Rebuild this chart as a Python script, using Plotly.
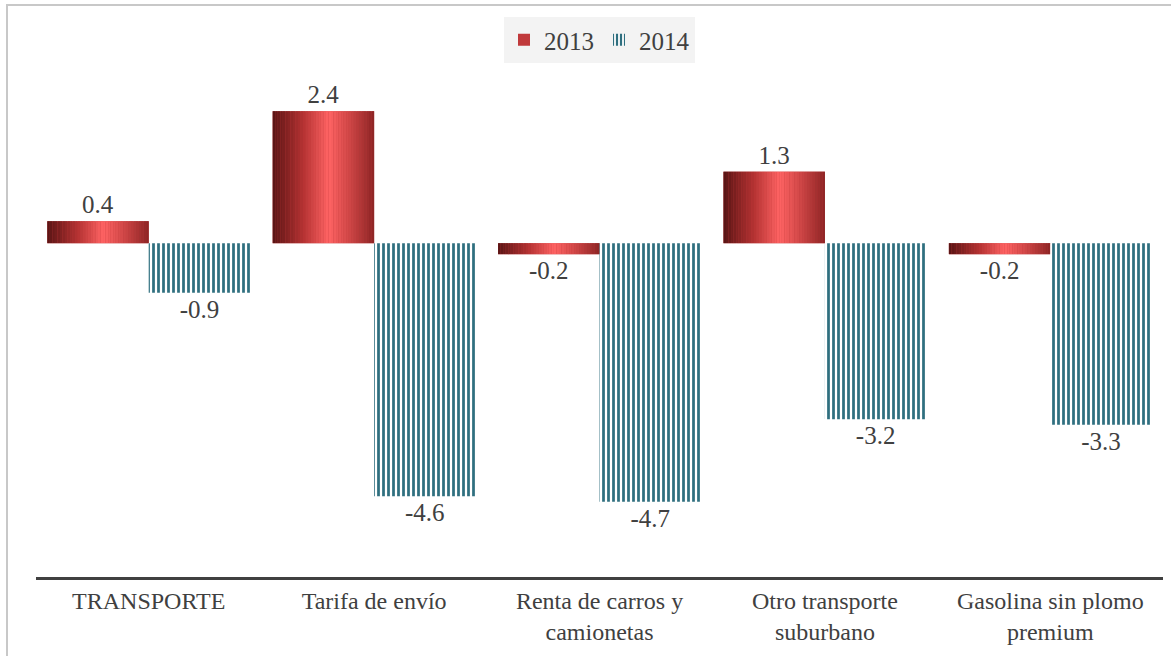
import plotly.graph_objects as go

categories = ["TRANSPORTE", "Tarifa de envío", "Renta de carros y<br>camionetas",
              "Otro transporte<br>suburbano", "Gasolina sin plomo<br>premium"]
values_2013 = [0.4, 2.4, -0.2, 1.3, -0.2]
values_2014 = [-0.9, -4.6, -4.7, -3.2, -3.3]
labels_2013 = ["0.4", "2.4", "-0.2", "1.3", "-0.2"]
labels_2014 = ["-0.9", "-4.6", "-4.7", "-3.2", "-3.3"]

FONT = "Liberation Serif"
TXT = "#404040"
BAR_W = 0.45

# horizontal gradient (cylinder look) for 2013 bars: dark left, highlight ~55%, dark right
stops = [(0.0, (88, 20, 20)), (0.3, (180, 50, 50)), (0.55, (255, 100, 100)),
         (0.75, (210, 72, 72)), (1.0, (140, 36, 36))]


def interp(t):
    for (t0, c0), (t1, c1) in zip(stops[:-1], stops[1:]):
        if t0 <= t <= t1:
            f = (t - t0) / (t1 - t0)
            return "rgb(%d,%d,%d)" % tuple(round(a + (b - a) * f) for a, b in zip(c0, c1))
    return "rgb(%d,%d,%d)" % stops[-1][1]


N = 40
fig = go.Figure()

fig.add_trace(go.Bar(
    name="2013", x=categories, y=values_2013, width=BAR_W, offset=-BAR_W,
    marker=dict(color="#c0393b", line=dict(width=0)),
    text=labels_2013, textposition="outside",
    textfont=dict(family=FONT, size=25, color=TXT), cliponaxis=False,
))
for i in range(N):
    fig.add_trace(go.Bar(
        x=categories, y=values_2013, width=BAR_W / N * 1.02, offset=-BAR_W + i * BAR_W / N,
        marker=dict(color=interp((i + 0.5) / N), line=dict(width=0)),
        showlegend=False, hoverinfo="skip",
    ))

fig.add_trace(go.Bar(
    name="2014", x=categories, y=values_2014, width=BAR_W, offset=0,
    marker=dict(color="white", line=dict(width=0),
                pattern=dict(shape="|", fgcolor="#2f6f7f", bgcolor="white",
                             size=5, solidity=0.55, fillmode="replace")),
    text=labels_2014, textposition="outside",
    textfont=dict(family=FONT, size=25, color=TXT), cliponaxis=False,
))

fig.update_layout(
    width=1171, height=656,
    barmode="overlay",
    plot_bgcolor="white", paper_bgcolor="white",
    margin=dict(l=36, r=8, t=60, b=79, autoexpand=False),
    font=dict(family=FONT, color=TXT),
    showlegend=True,
    legend=dict(orientation="h", x=0.5, xanchor="center",
                yref="container", y=1 - 40 / 656, yanchor="middle",
                bgcolor="#f3f3f3", font=dict(family=FONT, size=25, color=TXT),
                itemwidth=30),
    xaxis=dict(showline=True, linecolor="#404040", linewidth=3, ticks="",
               tickfont=dict(family=FONT, size=24, color=TXT), showgrid=False,
               zeroline=False, automargin=False),
    yaxis=dict(range=[-6.07, 3.33], visible=False, showgrid=False, zeroline=False,
               automargin=False),
    shapes=[dict(type="rect", xref="paper", yref="paper",
                 x0=(7 - 36) / 1127, x1=1.02, y0=-0.3, y1=1 + (60 - 5) / 517,
                 line=dict(color="#c8c8c8", width=2), fillcolor="rgba(0,0,0,0)", layer="below")],
)

fig.write_html("out.html", config={"displayModeBar": False},
               post_script="document.body.style.margin='0px';document.body.style.overflow='hidden';")
